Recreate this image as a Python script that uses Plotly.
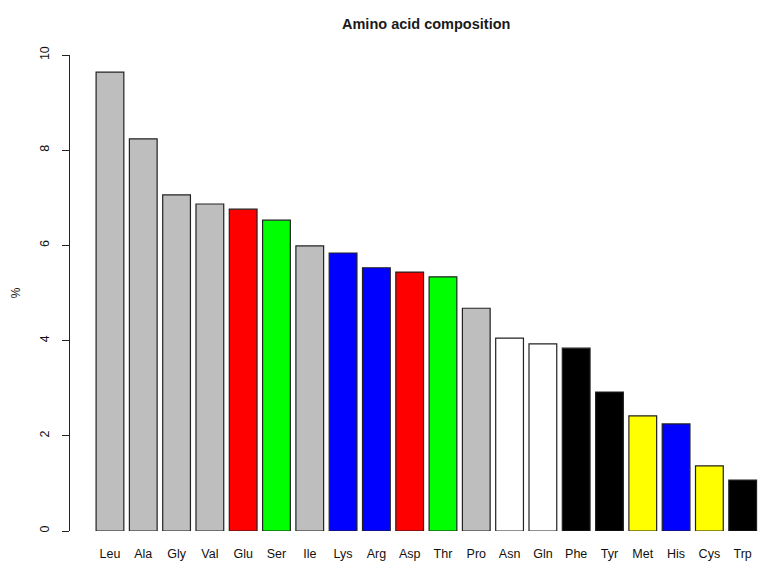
import plotly.graph_objects as go

# Amino acid composition (percent), sorted by abundance
residues = ["Leu", "Ala", "Gly", "Val", "Glu", "Ser", "Ile", "Lys", "Arg", "Asp",
            "Thr", "Pro", "Asn", "Gln", "Phe", "Tyr", "Met", "His", "Cys", "Trp"]
percent = [9.64, 8.24, 7.06, 6.87, 6.76, 6.53, 5.99, 5.84, 5.53, 5.44,
           5.34, 4.68, 4.05, 3.93, 3.84, 2.92, 2.42, 2.25, 1.37, 1.07]
# residue class colours
bar_colors = ["#BEBEBE", "#BEBEBE", "#BEBEBE", "#BEBEBE", "#FF0000", "#00FF00",
              "#BEBEBE", "#0000FF", "#0000FF", "#FF0000", "#00FF00", "#BEBEBE",
              "#FFFFFF", "#FFFFFF", "#000000", "#000000", "#FFFF00", "#0000FF",
              "#FFFF00", "#000000"]
y_ticks = [0, 2, 4, 6, 8, 10]

positions = list(range(len(residues)))

fig = go.Figure(
    go.Bar(
        x=positions,
        y=percent,
        width=1 / 1.2,
        marker=dict(color=bar_colors, line=dict(color="#222222", width=1.2)),
        hoverinfo="skip",
    )
)

FONT = "Liberation Sans, Arial, Helvetica, sans-serif"

fig.update_layout(
    width=758,
    height=561,
    margin=dict(l=70, r=0, t=55, b=30),
    paper_bgcolor="white",
    plot_bgcolor="white",
    showlegend=False,
    font=dict(family=FONT, size=12, color="#111111"),
    annotations=[
        dict(
            text="<b>Amino acid composition</b>",
            xref="paper", yref="paper",
            x=0.517, y=1.0, yshift=31,
            xanchor="center", yanchor="middle",
            showarrow=False,
            font=dict(family=FONT, size=14.5, color="#1a1a1a"),
        )
    ],
)

fig.update_xaxes(
    range=[-1.2, 19.46],
    tickmode="array",
    tickvals=positions,
    ticktext=residues,
    ticks="",
    showline=False,
    showgrid=False,
    zeroline=False,
    ticklabelstandoff=13,
    tickfont=dict(family=FONT, size=12.5, color="#111111"),
)

fig.update_yaxes(
    range=[0, 10],
    tickmode="array",
    tickvals=y_ticks,
    ticktext=[str(v) for v in y_ticks],
    tickangle=-90,
    ticks="outside",
    ticklen=7,
    tickwidth=1,
    tickcolor="#222222",
    showline=True,
    linecolor="#222222",
    linewidth=1,
    showgrid=False,
    zeroline=False,
    ticklabelstandoff=8,
    tickfont=dict(family=FONT, size=12.5, color="#111111"),
    title=dict(text="%", font=dict(family=FONT, size=12, color="#111111"), standoff=14),
)

fig.write_html("out.html")
